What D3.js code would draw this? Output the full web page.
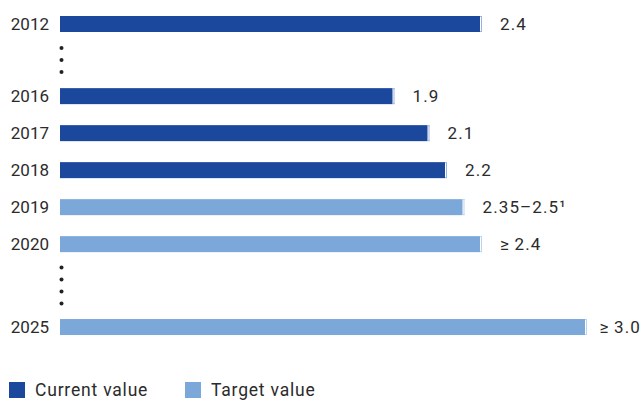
<!DOCTYPE html>
<html>
<head>
<meta charset="utf-8">
<script src="https://cdn.jsdelivr.net/npm/d3@7"></script>
<style>
  html, body { margin: 0; padding: 0; background: #fff; }
  svg { display: block; font-family: Roboto, "Noto Sans", sans-serif; }
</style>
</head>
<body>
<svg id="chart" width="642" height="401"></svg>
<script>
// ---- data ----
const years = ["2012", "2016", "2017", "2018", "2019", "2020", "2025"];
const values = [2.4, 1.9, 2.1, 2.2, 2.3, 2.4, 3.0];
const kinds = ["current", "current", "current", "current", "target", "target", "target"];
const valueLabels = ["2.4", "1.9", "2.1", "2.2", "2.35\u20132.5\u00B9", "\u2265\u20092.4", "\u2265\u20093.0"];
const legendLabels = ["Current value", "Target value"];
const legendKinds = ["current", "target"];

// ---- layout ----
const W = 642, H = 401;
const barH = 16;
const rowSlots = [0, 1.95, 2.95, 3.95, 4.95, 5.95, 8.19]; // row position in row-steps
const gaps = [{after: 0, n: 3}, {after: 5, n: 4}];
const colors = { current: "#1b479d", target: "#7ca8d9" };
const capColors = { current: "#9bb2de", target: "#bcd3ee" };
const textColor = "#2b2b2b";
const fontSize = 17;

const svg = d3.select("#chart");

const x = d3.scaleLinear().domain([0, 3]).range([60, 585]);
const y = d3.scaleLinear().domain([0, 1]).range([16, 53]);

const rows = years.map((yr, i) => ({ year: yr, value: values[i], kind: kinds[i], label: valueLabels[i], top: y(rowSlots[i]) }));

// bars
svg.selectAll("rect.bar").data(rows).join("rect")
  .attr("class", "bar")
  .attr("x", x(0))
  .attr("y", d => d.top)
  .attr("width", d => x(d.value) - x(0))
  .attr("height", barH)
  .attr("fill", d => colors[d.kind]);

// end caps
const caps = svg.selectAll("g.cap").data(rows).join("g").attr("class", "cap")
  .attr("fill", d => capColors[d.kind]);
caps.append("rect").attr("x", d => x(d.value)).attr("y", d => d.top).attr("width", 2).attr("height", 1);
caps.append("rect").attr("x", d => x(d.value)).attr("y", d => d.top + barH - 1).attr("width", 2).attr("height", 1);
caps.append("rect").attr("x", d => x(d.value) + 1).attr("y", d => d.top).attr("width", 1).attr("height", barH);

// year labels
svg.selectAll("text.year").data(rows).join("text")
  .attr("class", "year")
  .attr("x", 49)
  .attr("y", d => d.top + barH / 2)
  .attr("dy", "0.36em")
  .attr("text-anchor", "end")
  .attr("font-size", fontSize)
  .attr("fill", textColor)
  .text(d => d.year);

// value labels
svg.selectAll("text.val").data(rows).join("text")
  .attr("class", "val")
  .attr("x", d => x(d.value) + 20)
  .attr("y", d => d.top + barH / 2)
  .attr("dy", "0.36em")
  .attr("font-size", fontSize)
  .attr("letter-spacing", 1.1)
  .attr("fill", textColor)
  .text(d => d.label)
  .each(function () {
    const len = this.getComputedTextLength();
    const cur = +this.getAttribute("x");
    if (cur + len > W - 1) this.setAttribute("x", W - 1 - len);
  });

// ellipsis dots
gaps.forEach(g => {
  const a = rows[g.after].top + barH;
  const b = rows[g.after + 1].top;
  const c = (a + b) / 2;
  const step = 12;
  d3.range(g.n).forEach(k => {
    svg.append("circle")
      .attr("cx", 61.5)
      .attr("cy", c + (k - (g.n - 1) / 2) * step)
      .attr("r", 2)
      .attr("fill", "#222");
  });
});

// legend
const legX = [9, 185];
const leg = svg.selectAll("g.leg").data(legendLabels).join("g").attr("class", "leg")
  .attr("transform", (d, i) => `translate(${legX[i]},382)`);
leg.append("rect").attr("width", 16).attr("height", 16).attr("fill", (d, i) => colors[legendKinds[i]]);
leg.append("text").attr("x", 26).attr("y", 13.5)
  .attr("font-size", 17.5).attr("letter-spacing", 0.8)
  .attr("fill", textColor).text(d => d);
</script>
</body>
</html>
